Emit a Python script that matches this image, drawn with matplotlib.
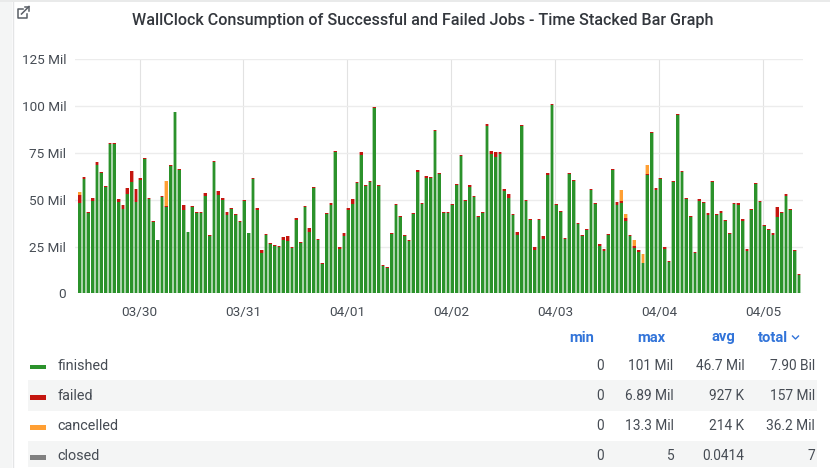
import numpy as np
import pandas as pd
import matplotlib
matplotlib.use("Agg")
import matplotlib.pyplot as plt
from matplotlib.patches import Rectangle

plt.rcParams['font.family'] = ['Roboto', 'DejaVu Sans']

# values in Mil, one bar per hour
finished = [
    48, 61, 43, 49.5, 68.5, 64, 57, 79.5, 79.5, 49,
    45, 53, 59.5, 49, 60.3, 71.5, 50.5, 38, 28.3, 51.3,
    46, 68.2, 96.5, 65.8, 44.7, 32.5, 46.2, 43, 43, 52,
    30.5, 70.2, 52.7, 49.6, 42, 45, 42, 38, 49.3, 32,
    61, 44.3, 21.8, 31.3,
    26.4, 25.4, 24.8, 28.4, 28, 24.4, 39.4, 26.9, 45.9, 33,
    56.4, 28.4, 15.7, 42.4, 47.4, 75.4, 23.9, 30.6, 44.3, 47.9,
    59, 73.8, 57.4, 59.4, 98.9, 57.2, 14.4, 13.4, 31.7, 47.3,
    40.7, 30.6, 27.9, 42.1, 65, 47.6, 61.8, 61.6, 86.8, 63.6,
    43, 43, 47.1, 57.7, 73.4, 49.2, 56.5, 51.4, 40.7, 42.8,
    89.4, 74.6, 73, 74.1, 54.5, 51, 42, 31, 89.4, 49.4,
    38.9, 23.3, 38.9, 29.2,
    63.4, 100.4, 47.3, 43.4, 28.8, 63.6, 59.9, 37, 30.8, 33.6,
    55.3, 47.8, 25.2, 22.4, 31.1, 65.9, 47.3, 48, 38.8, 30.6,
    24.3, 22.3, 16, 63, 85.6, 55.4, 60.9, 23.9, 16.9, 59.4,
    95.1, 64.8, 50.3, 40.9, 21.7, 49.2, 48.2, 41.8, 59.2, 41.8,
    43.1, 38.8, 31.8, 47.6, 47, 38.5, 22.4, 44.6, 58.1, 48.7,
    35.7, 33.6, 31.4, 41, 43, 52.2, 44.3, 22.8, 9.7,
]
failed = [
    4.6, 1, .6, 1.5, 1.5, .5, .5, .5, .5, 1.5,
    2, 3, 6, 6.89, 1.2, .5, .5, .5, .4, .5,
    .5, .4, .5, .5, 2.3, .5, .4, .5, .3, 1.5,
    .5, .5, 1.9, 1.4, 1.4, .7, .5, .8, .5, .4,
    .5, 1.3, 1.2, .4,
    .6, .6, .6, 1.6, 2.7, .6, .6, .6, .6, 1.8,
    .6, .6, .6, .6, .6, .6, .6, 1.4, 1.4, 2.5,
    .6, 1.7, .6, .6, .6, .6, .6, .6, .6, .6,
    .6, .6, .6, .6, .6, .6, .6, .6, .6, .6,
    .6, .6, .6, .6, .6, .6, 1.5, .6, .6, .6,
    1.2, 1.4, 2.5, 1.4, 1.4, 2, .6, 2, .6, .6,
    .6, 1.7, .6, 1.6,
    .6, .6, .6, .6, .6, .6, .6, .6, .6, .6,
    .6, .6, 1.4, 1.4, .6, .6, 1.7, 1.5, 1.4, .6,
    1.1, .6, 0, .5, .6, .6, .6, .6, .6, .6,
    .6, .6, .6, .6, .6, 1.3, .6, 1.2, .6, .6,
    .9, .6, .6, .6, 1, 1.4, 1.4, .6, .6, .6,
    .6, .6, .6, 5.3, .6, .6, .6, .6, .6,
]
cancelled = np.zeros(167)
cancelled[[0, 20, 125, 126, 128, 130, 131]] = [1.4, 13.3, 5.8, 2, 3, 5, 5.1]

series_names = ['finished', 'failed', 'cancelled', 'closed']
series_colors = ['#2b922b', '#c4160f', '#ff9f33', '#808080']
table_cols = ['min', 'max', 'avg', 'total']
table_vals = [
    ['0', '101 Mil', '46.7 Mil', '7.90 Bil'],
    ['0', '6.89 Mil', '927 K', '157 Mil'],
    ['0', '13.3 Mil', '214 K', '36.2 Mil'],
    ['0', '5', '0.0414', '7'],
]
y_ticks = [0, 25, 50, 75, 100, 125]
y_labels = ['0', '25 Mil', '50 Mil', '75 Mil', '100 Mil', '125 Mil']
day_labels = ['03/30', '03/31', '04/01', '04/02', '04/03', '04/04', '04/05']

W, H = 830, 468
fig = plt.figure(figsize=(W / 100, H / 100), dpi=100, facecolor='white')

# whole figure in pixels, for panel, table and icon
bg = fig.add_axes([0, 0, 1, 1])
bg.set_xlim(0, W)
bg.set_ylim(H, 0)
bg.axis('off')
bg.add_patch(Rectangle((0, 0), 12, H, fc='#f4f5f5', ec='none'))
bg.add_patch(Rectangle((0, 0), W, 1.5, fc='#e9eaea', ec='none'))
bg.plot([12.5, 12.5], [1.5, H], color='#e4e5e6', lw=1)

# external link icon
bg.plot([23, 17.5, 17.5, 27, 27], [9, 9, 18, 18, 13.5], color='#5a5f66', lw=1.1)
bg.plot([21.5, 29], [14, 6.5], color='#5a5f66', lw=1.1)
bg.plot([24.5, 29, 29], [6.5, 6.5, 11], color='#5a5f66', lw=1.1)

fig.text(422.5 / W, 1 - 21 / H, 'WallClock Consumption of Successful and Failed Jobs - Time Stacked Bar Graph',
         ha='center', va='center', fontsize=11.6, fontweight='medium', color='#33373d')

# chart
left, right, top, bottom = 75.3, 803.3, 59, 293.4
ax = fig.add_axes([left / W, 1 - bottom / H, (right - left) / W, (bottom - top) / H])
ax.patch.set_alpha(0)

times = pd.date_range('2024-03-29 10:12', periods=167, freq='h')
hours = np.array((times - pd.Timestamp('2024-03-30')) / pd.Timedelta(hours=1))
px_per_hour = 104 / 24
ax.set_xlim((left - 139.5) / px_per_hour, (right - 139.5) / px_per_hour)
ax.set_ylim(0, 125)

base = np.zeros(167)
for vals, color in zip([finished, failed, cancelled], series_colors):
    vals = np.asarray(vals, dtype=float)
    ax.bar(hours, vals, bottom=base, width=0.9, color=color, alpha=0.4, lw=0, zorder=3)
    ax.bar(hours, vals, bottom=base, width=0.58, color=color, lw=0, zorder=4)
    base += vals

ax.set_yticks(y_ticks, y_labels)
ax.set_xticks(np.arange(len(day_labels)) * 24, day_labels)
ax.grid(True, axis='y', color='#ececec', lw=1)
ax.grid(True, axis='x', color='#e2e2e2', lw=0.8)
ax.set_axisbelow(True)
for s in ax.spines.values():
    s.set_visible(False)
ax.tick_params(length=0, labelsize=9.7, labelcolor='#464c54')
ax.tick_params(axis='y', pad=6.5)
ax.tick_params(axis='x', pad=9)

# table
col_right = [603.5, 673.5, 744.5, 815]
head_right = [594, 665, 735, 788]
row_y = [366, 396.5, 426.5, 456.5]
for name, x in zip(table_cols, head_right):
    bg.text(x, 337.5, name, ha='right', va='center', fontsize=10.6, fontweight='bold', color='#3274d9')
bg.plot([792.5, 795.5, 798.5], [336, 339, 336], color='#3274d9', lw=1)
bg.add_patch(Rectangle((27.5, 380.3), 789.5, 30.4, fc='#f4f5f5', ec='none'))
bg.add_patch(Rectangle((27.5, 441), 789.5, 25.5, fc='#f4f5f5', ec='none'))
for name, color, vals, y in zip(series_names, series_colors, table_vals, row_y):
    bg.add_patch(Rectangle((30, y - 1.5), 16, 4.5, fc=color, ec='none'))
    bg.text(57.5, y, name, ha='left', va='center', fontsize=10.4, color='#464c54')
    for v, x in zip(vals, col_right):
        bg.text(x, y, v, ha='right', va='center', fontsize=9.9, color='#464c54')

fig.savefig('out.png', dpi=100)
